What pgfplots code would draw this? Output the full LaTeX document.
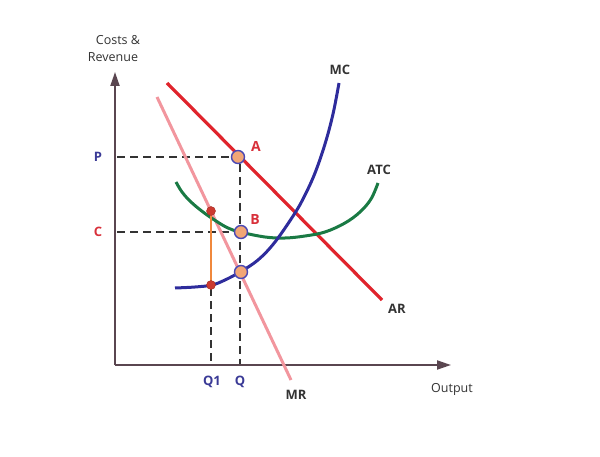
\documentclass[border=0pt]{standalone}
\usepackage{pgfplots}
\pgfplotsset{compat=1.18}
\usepackage{fontspec}
\setmainfont{Open Sans}
\usetikzlibrary{arrows.meta}

\definecolor{axiscol}{HTML}{5A4650}
\definecolor{arred}{HTML}{E0242C}
\definecolor{mrpink}{HTML}{F2969E}
\definecolor{mcblue}{HTML}{2E2C9C}
\definecolor{atcgreen}{HTML}{1A7A44}
\definecolor{dotfill}{HTML}{F2A676}
\definecolor{dotedge}{HTML}{4A48B4}
\definecolor{gapline}{HTML}{F0883C}
\definecolor{gapdot}{HTML}{CC3A30}
\definecolor{lblblue}{HTML}{3A3A96}
\definecolor{lblred}{HTML}{D8303A}
\definecolor{txt}{HTML}{333333}

\begin{document}
\begin{tikzpicture}
\begin{axis}[
  scale only axis, width=600pt, height=456pt,
  xmin=0, xmax=600, ymin=0, ymax=456,
  hide axis, clip=false,
]
\path[use as bounding box] (rel axis cs:0,0) rectangle (rel axis cs:1,1);

% axes
\addplot[axiscol, line width=2pt, -{Triangle[length=14pt,width=9pt]}] coordinates {(115,91) (115,384)};
\addplot[axiscol, line width=2pt, -{Triangle[length=14pt,width=9pt]}] coordinates {(115,91) (451,91)};

% dashed guides
\addplot[txt, line width=1.1pt, dash pattern=on 8pt off 5pt] coordinates {(117,299) (232,299)};
\addplot[txt, line width=1.1pt, dash pattern=on 8pt off 5pt] coordinates {(117,224) (234,224)};
\addplot[txt, line width=1.1pt, dash pattern=on 8pt off 5pt] coordinates {(240,292) (240,92)};
\addplot[txt, line width=1.1pt, dash pattern=on 8pt off 5pt] coordinates {(211,246) (211,92)};

% MR
\addplot[mrpink, line width=3pt] coordinates {(157,359) (291,76)};
% AR
\addplot[arred, line width=3.2pt] coordinates {(167,373) (382,156)};

% ATC
\addplot[atcgreen, line width=3pt, smooth, tension=0.6] coordinates {
(176,274) (182,264) (191,254) (203,244) (216,235) (228,228) (240,224) (265,219) (285,218)
(305,220) (325,224) (345,233) (360,244) (371,257) (378,273)};

% MC
\addplot[mcblue, line width=3pt, smooth, tension=0.6] coordinates {
(175,168) (195,169) (212,171) (225,176) (240,184) (258,196) (275,214) (295,243)
(305,261) (315,283) (325,312) (333,342) (339,373)};

% gap between ATC and MC at Q1
\addplot[gapline, line width=2.2pt] coordinates {(211,245) (211,171)};
\addplot[only marks, mark=*, mark size=4.5pt, mark options={fill=gapdot, draw=gapdot!80!black}] coordinates {(211,245) (211,171)};

% points A, B and MC=MR
\addplot[only marks, mark=*, mark size=6.5pt, mark options={fill=dotfill, draw=dotedge, line width=1.4pt}] coordinates {(238,299) (241,224) (241,184)};

% labels
\node[txt, font=\fontsize{12.5}{14}\selectfont] at (axis cs:118,416) {Costs \&};
\node[txt, font=\fontsize{12.5}{14}\selectfont] at (axis cs:113,399) {Revenue};
\node[txt, font=\fontsize{12.5}{14}\selectfont] at (axis cs:452,67) {Output};
\node[lblblue, font=\fontsize{13}{14}\selectfont\bfseries] at (axis cs:98,299) {P};
\node[lblred, font=\fontsize{13}{14}\selectfont\bfseries] at (axis cs:98,224) {C};
\node[lblred, font=\fontsize{14}{14}\selectfont\bfseries] at (axis cs:256,310) {A};
\node[lblred, font=\fontsize{14}{14}\selectfont\bfseries] at (axis cs:255,236) {B};
\node[txt, font=\fontsize{13}{14}\selectfont\bfseries] at (axis cs:340,386) {MC};
\node[txt, font=\fontsize{13}{14}\selectfont\bfseries] at (axis cs:379,286) {ATC};
\node[txt, font=\fontsize{13}{14}\selectfont\bfseries] at (axis cs:397,147) {AR};
\node[txt, font=\fontsize{13}{14}\selectfont\bfseries] at (axis cs:296,61) {MR};
\node[lblblue, font=\fontsize{13}{14}\selectfont\bfseries] at (axis cs:212,74) {Q1};
\node[lblblue, font=\fontsize{13}{14}\selectfont\bfseries] at (axis cs:240,74) {Q};
\end{axis}
\end{tikzpicture}
\end{document}
